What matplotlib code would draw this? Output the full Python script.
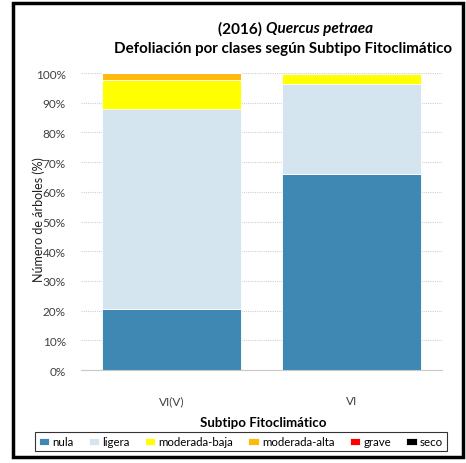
import matplotlib
matplotlib.use("Agg")
from matplotlib import pyplot as plt
from matplotlib.patches import Rectangle
from matplotlib.ticker import PercentFormatter

plt.rcParams['font.family'] = ['Lato', 'DejaVu Sans']

subtipos = ["VI(V)", "VI"]
clases = ["nula", "ligera", "moderada-baja", "moderada-alta", "grave", "seco"]
colores = ["#3F88B3", "#D5E5EF", "#FFFF00", "#FFB90F", "#FF0000", "#000000"]

nula = [20.4, 66.0]
ligera = [67.5, 30.3]
moderada_baja = [9.8, 3.2]
moderada_alta = [2.3, 0.0]
grave = [0.0, 0.0]
seco = [0.0, 0.0]
series = [nula, ligera, moderada_baja, moderada_alta, grave, seco]

fig = plt.figure(figsize=(4.66, 4.64), dpi=100)
ax = fig.add_axes([0.174, 0.2004, 0.7745, 0.6401])

x = range(len(subtipos))
bottom = [0.0] * len(subtipos)
for nombre, vals, col in zip(clases, series, colores):
    ax.bar(x, vals, 0.77, bottom=bottom, color=col, edgecolor="white",
           linewidth=0.6, label=nombre)
    bottom = [b + v for b, v in zip(bottom, vals)]

ax.set_xlim(-0.5, 1.5)
ax.set_ylim(0, 100)
ax.set_yticks(range(0, 101, 10))
ax.yaxis.set_major_formatter(PercentFormatter(decimals=0))
ax.set_xticks(list(x))
ax.set_xticklabels(subtipos)
ax.tick_params(axis="both", length=0, labelsize=8.5, colors="#404040")
ax.tick_params(axis="y", pad=11)
ax.tick_params(axis="x", pad=18)
ax.grid(axis="y", color="#d0d0d0", linewidth=0.8, linestyle=(0, (1, 1)))
ax.set_axisbelow(True)
for s in ["top", "right", "left"]:
    ax.spines[s].set_visible(False)
ax.spines["bottom"].set_color("#c8c8c8")

ax.set_ylabel("Número de árboles (%)", fontsize=9, color="#202020")
ax.yaxis.set_label_coords(-0.10, 0.51)

fig.text(0.57, 0.937, "(2016) ", fontsize=11, fontweight="bold", ha="right", va="center")
fig.text(0.57, 0.937, "Quercus petraea", fontsize=11, fontweight="bold",
         style="italic", ha="left", va="center")
fig.text(0.608, 0.895, "Defoliación por clases según Subtipo Fitoclimático",
         fontsize=10.9, fontweight="bold", ha="center", va="center")
fig.text(0.564, 0.088, "Subtipo Fitoclimático", fontsize=9.5, fontweight="bold",
         ha="center", va="center")

leg = fig.legend(loc="center", bbox_to_anchor=(0.517, 0.0455), ncol=6,
                 fontsize=8.3, frameon=True, fancybox=False, handlelength=0.9,
                 handleheight=0.5, handletextpad=0.3, columnspacing=1.3,
                 borderpad=0.35)
leg.get_frame().set_edgecolor("black")
leg.get_frame().set_linewidth(0.8)

# marco exterior
fig.patches.append(Rectangle((0.028, 0.014), 0.966, 0.978, transform=fig.transFigure,
                             fill=False, edgecolor="black", linewidth=2.5))

fig.savefig("out.png", dpi=100)
